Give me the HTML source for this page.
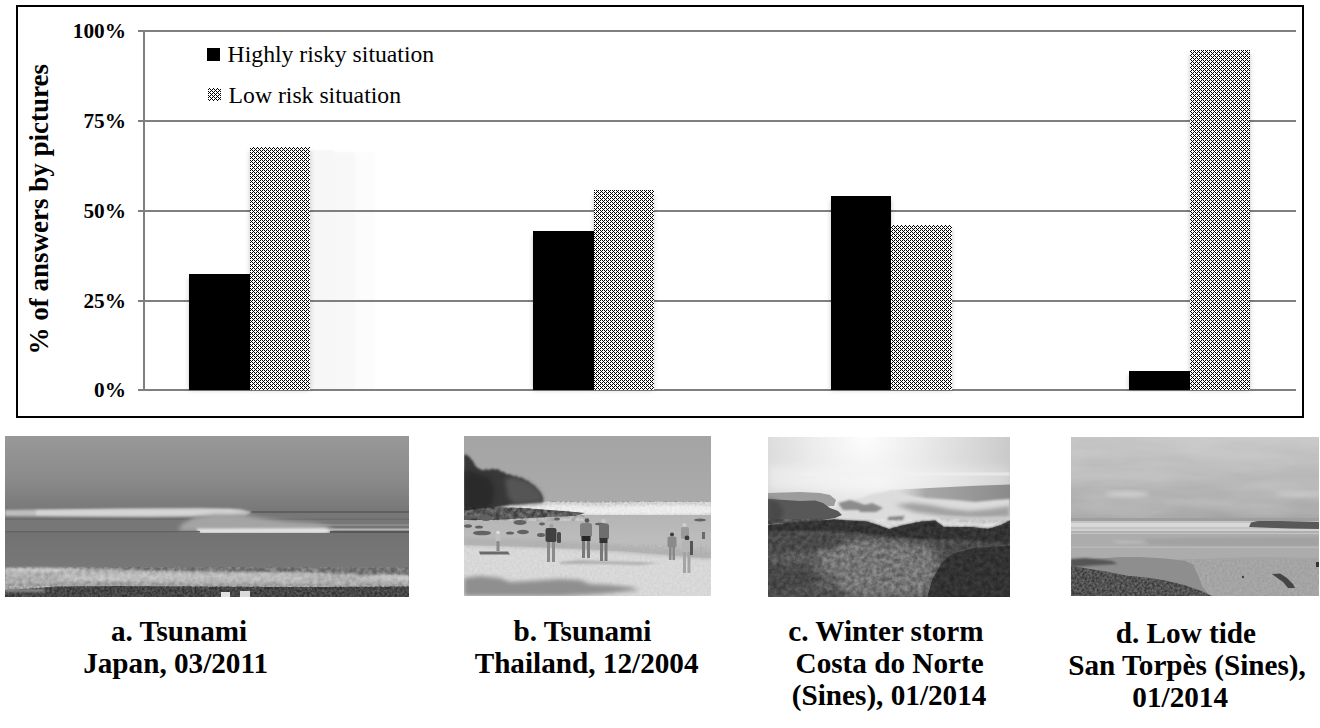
<!DOCTYPE html>
<html><head><meta charset="utf-8"><style>
html,body{margin:0;padding:0;background:#fff;width:1320px;height:728px;overflow:hidden}
svg{display:block}
text{font-family:"Liberation Serif",serif}
</style></head><body>
<svg width="1320" height="728" viewBox="0 0 1320 728">
<defs>
<pattern id="pt00" x="0" y="0" width="4" height="4" patternUnits="userSpaceOnUse">
<rect width="4" height="4" fill="#fff"/>
<g fill="#000" shape-rendering="crispEdges">
<rect x="0" y="0" width="1" height="1"/><rect x="2" y="0" width="1" height="1"/>
<rect x="3" y="1" width="1" height="1"/>
<rect x="0" y="2" width="1" height="1"/><rect x="2" y="2" width="1" height="1"/>
<rect x="1" y="3" width="1" height="1"/>
</g></pattern>
<pattern id="pt20" x="2" y="0" width="4" height="4" patternUnits="userSpaceOnUse">
<rect width="4" height="4" fill="#fff"/>
<g fill="#000" shape-rendering="crispEdges">
<rect x="0" y="0" width="1" height="1"/><rect x="2" y="0" width="1" height="1"/>
<rect x="3" y="1" width="1" height="1"/>
<rect x="0" y="2" width="1" height="1"/><rect x="2" y="2" width="1" height="1"/>
<rect x="1" y="3" width="1" height="1"/>
</g></pattern>
<pattern id="pt10" x="1" y="0" width="4" height="4" patternUnits="userSpaceOnUse">
<rect width="4" height="4" fill="#fff"/>
<g fill="#000" shape-rendering="crispEdges">
<rect x="0" y="0" width="1" height="1"/><rect x="2" y="0" width="1" height="1"/>
<rect x="3" y="1" width="1" height="1"/>
<rect x="0" y="2" width="1" height="1"/><rect x="2" y="2" width="1" height="1"/>
<rect x="1" y="3" width="1" height="1"/>
</g></pattern>
<pattern id="pt01" x="0" y="1" width="4" height="4" patternUnits="userSpaceOnUse">
<rect width="4" height="4" fill="#fff"/>
<g fill="#000" shape-rendering="crispEdges">
<rect x="0" y="0" width="1" height="1"/><rect x="2" y="0" width="1" height="1"/>
<rect x="3" y="1" width="1" height="1"/>
<rect x="0" y="2" width="1" height="1"/><rect x="2" y="2" width="1" height="1"/>
<rect x="1" y="3" width="1" height="1"/>
</g></pattern>
<filter id="sh" x="-30%" y="-10%" width="160%" height="120%"><feGaussianBlur stdDeviation="2.5"/></filter>
<filter id="gb" x="-5%" y="-5%" width="110%" height="110%"><feGaussianBlur stdDeviation="1.2"/></filter>
<linearGradient id="ghost" x1="0" x2="1" y1="0" y2="0"><stop offset="0" stop-color="#f5f5f5"/><stop offset="1" stop-color="#fdfdfd"/></linearGradient>
</defs>
<rect x="0" y="0" width="1320" height="728" fill="#fff"/>

<rect x="17" y="6" width="1286" height="411" fill="#fff" stroke="#000" stroke-width="2"/>
<g filter="url(#gb)"><rect x="310" y="150" width="24" height="240" fill="#f7f7f7"/><rect x="334" y="152" width="21" height="238" fill="#f8f8f8"/><rect x="355" y="152" width="20" height="238" fill="#fcfcfc"/></g>
<line x1="138" y1="31" x2="1296" y2="31" stroke="#7f7f7f" stroke-width="2"/>
<line x1="138" y1="121" x2="1296" y2="121" stroke="#7f7f7f" stroke-width="2"/>
<line x1="138" y1="211" x2="1296" y2="211" stroke="#7f7f7f" stroke-width="2"/>
<line x1="138" y1="301" x2="1296" y2="301" stroke="#7f7f7f" stroke-width="2"/>
<line x1="138" y1="390" x2="1296" y2="390" stroke="#7f7f7f" stroke-width="2"/>
<line x1="144" y1="30" x2="144" y2="391" stroke="#7f7f7f" stroke-width="2"/>
<rect x="189" y="278" width="61" height="112" fill="#000" opacity="0.22" filter="url(#sh)"/>
<rect x="250" y="151" width="60" height="239" fill="#000" opacity="0.22" filter="url(#sh)"/>
<rect x="533" y="235" width="61" height="155" fill="#000" opacity="0.22" filter="url(#sh)"/>
<rect x="594" y="194" width="60" height="196" fill="#000" opacity="0.22" filter="url(#sh)"/>
<rect x="831" y="200" width="60" height="190" fill="#000" opacity="0.22" filter="url(#sh)"/>
<rect x="891" y="229" width="61" height="161" fill="#000" opacity="0.22" filter="url(#sh)"/>
<rect x="1129" y="375" width="61" height="15" fill="#000" opacity="0.22" filter="url(#sh)"/>
<rect x="1190" y="54" width="60" height="336" fill="#000" opacity="0.22" filter="url(#sh)"/>
<rect x="189" y="274" width="61" height="116" fill="#000"/>
<rect x="250" y="147" width="60" height="243" fill="url(#pt00)"/>
<rect x="533" y="231" width="61" height="159" fill="#000"/>
<rect x="594" y="190" width="60" height="200" fill="url(#pt00)"/>
<rect x="831" y="196" width="60" height="194" fill="#000"/>
<rect x="891" y="225" width="61" height="165" fill="url(#pt20)"/>
<rect x="1129" y="371" width="61" height="19" fill="#000"/>
<rect x="1190" y="50" width="60" height="340" fill="url(#pt10)"/>
<text x="126" y="38.0" text-anchor="end" font-weight="bold" font-size="21.3">100%</text>
<text x="126" y="128.0" text-anchor="end" font-weight="bold" font-size="21.3">75%</text>
<text x="126" y="218.0" text-anchor="end" font-weight="bold" font-size="21.3">50%</text>
<text x="126" y="308.0" text-anchor="end" font-weight="bold" font-size="21.3">25%</text>
<text x="126" y="397.0" text-anchor="end" font-weight="bold" font-size="21.3">0%</text>
<text transform="translate(48.3,209.2) rotate(-90)" text-anchor="middle" font-weight="bold" font-size="27">% of answers by pictures</text>
<rect x="207" y="48" width="13" height="13" fill="#000"/>
<rect x="208" y="88" width="13" height="13" fill="url(#pt01)"/>
<text x="227.6" y="61.6" font-size="23.7">Highly risky situation</text>
<text x="228.6" y="103" font-size="23.7">Low risk situation</text>
<defs>
<clipPath id="ca"><rect x="5" y="436" width="404" height="161"/></clipPath>
<clipPath id="cb"><rect x="464" y="436" width="247" height="160"/></clipPath>
<clipPath id="cc"><rect x="768" y="437" width="242" height="160"/></clipPath>
<clipPath id="cd"><rect x="1071" y="437" width="248" height="159"/></clipPath>
<filter id="b05" x="-10%" y="-50%" width="120%" height="200%"><feGaussianBlur stdDeviation="0.6"/></filter>
<filter id="b1" x="-10%" y="-50%" width="120%" height="200%"><feGaussianBlur stdDeviation="1"/></filter>
<filter id="b2" x="-10%" y="-50%" width="120%" height="200%"><feGaussianBlur stdDeviation="2"/></filter>
<filter id="b4" x="-20%" y="-50%" width="140%" height="200%"><feGaussianBlur stdDeviation="4"/></filter>
<filter id="nz" x="0" y="0" width="100%" height="100%" color-interpolation-filters="sRGB">
<feTurbulence type="fractalNoise" baseFrequency="0.35" numOctaves="2" seed="3"/>
<feColorMatrix type="matrix" values="0 0 0 0 0  0 0 0 0 0  0 0 0 0 0  0 0 0 -1.2 0.75"/>
</filter>
<filter id="nzl" x="0" y="0" width="100%" height="100%" color-interpolation-filters="sRGB">
<feTurbulence type="fractalNoise" baseFrequency="0.3" numOctaves="2" seed="7"/>
<feColorMatrix type="matrix" values="0 0 0 0 1  0 0 0 0 1  0 0 0 0 1  0 0 0 -1.2 0.75"/>
</filter>
<linearGradient id="askyg" x1="0" y1="436" x2="0" y2="512" gradientUnits="userSpaceOnUse">
<stop offset="0" stop-color="#989898"/><stop offset="0.55" stop-color="#8b8b8b"/><stop offset="1" stop-color="#777"/></linearGradient>
<linearGradient id="aseag" x1="0" y1="533" x2="0" y2="570" gradientUnits="userSpaceOnUse">
<stop offset="0" stop-color="#727272"/><stop offset="1" stop-color="#787878"/></linearGradient>
<linearGradient id="bskyg" x1="0" y1="436" x2="0" y2="505" gradientUnits="userSpaceOnUse">
<stop offset="0" stop-color="#a4a4a4"/><stop offset="1" stop-color="#ababab"/></linearGradient>
<linearGradient id="bseag" x1="0" y1="514" x2="0" y2="560" gradientUnits="userSpaceOnUse">
<stop offset="0" stop-color="#b4b4b4"/><stop offset="0.6" stop-color="#bdbdbd"/><stop offset="1" stop-color="#b0b0b0"/></linearGradient>
<radialGradient id="csun" cx="865" cy="437" r="150" gradientUnits="userSpaceOnUse">
<stop offset="0" stop-color="#fdfdfd"/><stop offset="0.35" stop-color="#ececec"/><stop offset="0.8" stop-color="#d4d4d4"/><stop offset="1" stop-color="#c8c8c8"/></radialGradient>
<linearGradient id="dskyg" x1="0" y1="437" x2="0" y2="521" gradientUnits="userSpaceOnUse">
<stop offset="0" stop-color="#c9c9c9"/><stop offset="0.45" stop-color="#bdbdbd"/><stop offset="0.7" stop-color="#b6b6b6"/><stop offset="1" stop-color="#a9a9a9"/></linearGradient>
<linearGradient id="chaze" x1="768" y1="0" x2="1010" y2="0" gradientUnits="userSpaceOnUse">
<stop offset="0" stop-color="#eeeeee" stop-opacity="0.7"/><stop offset="0.45" stop-color="#f6f6f6" stop-opacity="0.9"/><stop offset="1" stop-color="#e0e0e0" stop-opacity="0.5"/></linearGradient>
<linearGradient id="csea" x1="880" y1="0" x2="1010" y2="0" gradientUnits="userSpaceOnUse">
<stop offset="0" stop-color="#d8d8d8" stop-opacity="0"/><stop offset="0.35" stop-color="#a8a8a8"/><stop offset="1" stop-color="#8a8a8a"/></linearGradient>
<filter id="nzo" x="0" y="0" width="100%" height="100%" color-interpolation-filters="sRGB">
<feTurbulence type="fractalNoise" baseFrequency="0.22" numOctaves="3" seed="5"/>
<feColorMatrix type="matrix" values="1.8 0 0 0 -0.4  1.8 0 0 0 -0.4  1.8 0 0 0 -0.4  0 0 0 0 1"/>
</filter>
<filter id="nzf" x="0" y="0" width="100%" height="100%" color-interpolation-filters="sRGB">
<feTurbulence type="fractalNoise" baseFrequency="0.4" numOctaves="2" seed="9"/>
<feColorMatrix type="matrix" values="1.8 0 0 0 -0.4  1.8 0 0 0 -0.4  1.8 0 0 0 -0.4  0 0 0 0 1"/>
</filter>
<clipPath id="dveg"><path d="M1071 566 L1108.6 572 L1127 575.7 L1146 577.6 L1165 580.4 L1184 585 L1202.5 591.6 L1214 597 L1071 597 Z"/></clipPath>
<filter id="cloud" x="0" y="0" width="100%" height="100%" color-interpolation-filters="sRGB">
<feTurbulence type="fractalNoise" baseFrequency="0.012 0.06" numOctaves="3" seed="11"/>
<feColorMatrix type="matrix" values="2 0 0 0 -0.5  2 0 0 0 -0.5  2 0 0 0 -0.5  0 0 0 0 1"/>
</filter>
</defs>

<!-- Photo a: Tsunami Japan -->
<g clip-path="url(#ca)">
<rect x="5" y="436" width="404" height="161" fill="url(#askyg)"/>
<rect x="5" y="512" width="404" height="22" fill="#777"/>
<rect x="250" y="511" width="159" height="2" fill="#5f5f5f" filter="url(#b05)"/>
<rect x="5" y="518.5" width="404" height="1.5" fill="#6c6c6c" filter="url(#b05)"/>
<rect x="250" y="524" width="159" height="2" fill="#8a8a8a" filter="url(#b05)"/>
<!-- upper wave band -->
<path d="M5 510 L40 509.5 L120 508.5 L200 508 L240 509 L252 512 L245 516 L150 517 L60 516.5 L5 516 Z" fill="#bdbdbd" filter="url(#b1)"/>
<path d="M36 510.5 L140 509.5 L230 509.5 L246 512.5 L230 515 L120 515.5 L36 515 Z" fill="#d6d6d6" filter="url(#b1)"/>
<!-- spray of second wave -->
<path d="M178 531 L182 524 L195 517 L215 514 L240 514.5 L262 518 L285 521 L300 522 L315 523 L328 526 L334 531 Z" fill="#a4a4a4" filter="url(#b2)"/>
<path d="M196 528.5 L325 528 L333 530.5 L326 533.5 L200 533.5 Z" fill="#e2e2e2" filter="url(#b1)"/>
<rect x="330" y="528.5" width="79" height="2" fill="#b4b4b4" filter="url(#b05)"/>
<rect x="5" y="531" width="195" height="1.5" fill="#626262" filter="url(#b05)"/>
<rect x="330" y="531" width="79" height="2" fill="#595959" filter="url(#b05)"/>
<!-- ocean -->
<rect x="5" y="533" width="404" height="37" fill="url(#aseag)"/>
<!-- foam -->
<path d="M5 568 L40 567.5 L80 568 L110 569 L160 571 L240 572 L300 572 L330 573 L370 575 L409 575 L409 590 L5 590 Z" fill="#b0b0b0" filter="url(#b1)"/>
<path d="M5 569 L30 568.5 L70 569.5 L80 571 L50 572 L5 572 Z" fill="#c4c4c4" filter="url(#b1)"/>
<path d="M60 575 L150 573.5 L250 575 L300 576 L330 577 L300 580 L200 580 L100 580 L60 579 Z" fill="#c2c2c2" filter="url(#b2)"/>
<path d="M370 576 L400 575 L409 576 L409 580 L370 580 Z" fill="#c4c4c4" filter="url(#b1)"/>
<path d="M5 583 L100 582 L200 583.5 L300 584 L409 584 L409 587 L5 587 Z" fill="#9e9e9e" filter="url(#b1)"/>
<!-- land -->
<path d="M5 590 L30 588.5 L45 587.5 L60 586.5 L120 586 L200 586.5 L300 587 L409 586.5 L409 597 L5 597 Z" fill="#444" filter="url(#b05)"/>
<rect x="5" y="586" width="404" height="11" filter="url(#nzf)" style="mix-blend-mode:overlay" opacity="0.35"/>
<rect x="5" y="567" width="404" height="20" filter="url(#nzo)" style="mix-blend-mode:overlay" opacity="0.2"/>
<rect x="5" y="589" width="40" height="3" fill="#8a8a8a" filter="url(#b1)"/>
<rect x="221" y="592" width="9" height="5" fill="#e2e2e2"/>
<rect x="240" y="591" width="10" height="6" fill="#dadada"/>
</g>

<!-- Photo b: Tsunami Thailand -->
<g clip-path="url(#cb)">
<rect x="464" y="436" width="247" height="70" fill="url(#bskyg)"/>
<!-- surf -->
<path d="M490 503 L540 502 L600 502.5 L650 502 L711 502 L711 516 L590 516 L490 513 Z" fill="#d4d4d4" filter="url(#b05)"/>
<path d="M520 507 L560 505 L600 506.5 L640 505.5 L680 505 L711 506 L711 514 L640 514.5 L580 514 L520 511 Z" fill="#ececec" filter="url(#b1)"/>
<rect x="490" y="501" width="221" height="15" filter="url(#nzf)" style="mix-blend-mode:overlay" opacity="0.35"/>
<!-- sea/wet sand -->
<rect x="464" y="515" width="247" height="46" fill="url(#bseag)"/>
<!-- beach -->
<path d="M464 545 L500 546 L540 547.5 L580 549 L620 551 L660 554 L690 557 L711 558 L711 596 L464 596 Z" fill="#d8d8d8" filter="url(#b05)"/>
<rect x="464" y="545" width="247" height="51" filter="url(#nzf)" style="mix-blend-mode:overlay" opacity="0.15"/>
<!-- hill -->
<path d="M464 455 L466 454.5 L469 456.5 L471 459 L473 461 L475 465 L477 467.5 L480 469 L483 470.5 L486 469 L489 470 L492 468.5 L495 469.5 L498 469 L501 471.5 L504 472 L507 474.5 L510 474 L513 476.5 L516 476 L519 478 L522 477.5 L525 480.5 L528 481 L531 484 L534 485.5 L536 488 L539 491 L541 494 L542.5 497 L543 502 L530 503 L510 505 L496 508 L485 511 L464 512 Z" fill="#383838" filter="url(#b1)"/>
<path d="M505 479 L514 477 L526 481 L534 486 L540 492 L542 497 L543 502 L530 503 L515 504 L508 498 Z" fill="#555" filter="url(#b2)"/>
<path d="M464 470 L475 472 L490 478 L495 490 L492 505 L480 510 L464 512 Z" fill="#2c2c2c" filter="url(#b2)"/>
<!-- rocks band -->
<path d="M464 511 L480 508.5 L500 507 L525 508 L550 510 L570 511.5 L585 513 L575 516 L550 517 L520 518.5 L495 520 L464 520 Z" fill="#585858" filter="url(#b05)"/>
<rect x="464" y="507" width="122" height="14" filter="url(#nzo)" style="mix-blend-mode:overlay" opacity="0.35"/>
<g fill="#626262" filter="url(#b05)">
<ellipse cx="486" cy="518" rx="6" ry="3"/>
<ellipse cx="520" cy="522.5" rx="6.5" ry="2.5"/>
<ellipse cx="523" cy="532" rx="6" ry="2.2"/>
<ellipse cx="510" cy="533" rx="4" ry="1.6"/>
<ellipse cx="468" cy="526" rx="4" ry="1.8"/>
<ellipse cx="479" cy="527" rx="4" ry="1.6"/>
<ellipse cx="482" cy="533" rx="9" ry="2.3"/>
<ellipse cx="541" cy="535" rx="4" ry="2"/>
<ellipse cx="542" cy="524" rx="3" ry="1.4"/>
<ellipse cx="557" cy="519" rx="3" ry="1.4"/>
<ellipse cx="600" cy="524" rx="5" ry="1.3"/>
<ellipse cx="700" cy="520" rx="6" ry="1.4"/>
</g>
<!-- darker wet zone near shore -->
<path d="M464 538 L540 540 L600 544 L660 549 L711 553 L711 559 L660 555 L600 550 L540 547 L464 545 Z" fill="#b0b0b0" filter="url(#b2)"/>
<!-- shadows on beach -->
<path d="M464 578 L480 576 L500 578 L510 582 L530 581 L560 579 L580 580 L590 584 L610 585 L630 587 L640 590 L600 594 L560 596 L464 596 Z" fill="#8f8f8f" filter="url(#b2)"/>
<path d="M479 551.5 L508 551.5 L510 554.5 L480 554.5 Z" fill="#6a6a6a" filter="url(#b05)"/>
<path d="M560 562 L580 560 L600 561 L640 562 L660 563 L640 565 L600 564 L560 564 Z" fill="#b0b0b0" filter="url(#b1)"/>
<!-- people -->
<g filter="url(#b05)">
<!-- child left -->
<rect x="495.5" y="534" width="5" height="8" rx="1.5" fill="#c0c0c0"/><circle cx="498" cy="532.5" r="1.8" fill="#e0e0e0"/>
<rect x="496.5" y="541" width="3" height="10" fill="#8a8a8a"/>
<!-- person dark shirt -->
<circle cx="551.5" cy="526" r="2.2" fill="#a0a0a0"/>
<rect x="545.5" y="528" width="11" height="14" rx="2" fill="#404040"/>
<rect x="547" y="542" width="3" height="20" fill="#8a8a8a"/><rect x="552" y="542" width="3" height="20" fill="#8a8a8a"/>
<rect x="557" y="532" width="4" height="11" rx="1.5" fill="#4a4a4a"/>
<!-- man 1 -->
<circle cx="587" cy="520.5" r="2.3" fill="#555"/>
<rect x="580" y="523" width="12" height="14" rx="2.5" fill="#808080"/>
<rect x="581.5" y="536" width="9" height="5" fill="#252525"/>
<rect x="582" y="541" width="3" height="17" fill="#7a7a7a"/><rect x="587" y="541" width="3" height="17" fill="#7a7a7a"/>
<!-- man 2 -->
<circle cx="603.5" cy="521" r="2.3" fill="#c8c8c8"/>
<rect x="599" y="523.5" width="10" height="16" rx="2.5" fill="#6e6e6e"/>
<rect x="599.5" y="538" width="8" height="5" fill="#303030"/>
<rect x="600" y="543" width="3" height="18" fill="#787878"/><rect x="604.5" y="543" width="3" height="18" fill="#787878"/>
<!-- child right -->
<circle cx="672" cy="534.5" r="2" fill="#3a3a3a"/>
<rect x="667.5" y="536.5" width="9" height="11" rx="2" fill="#8a8a8a"/>
<rect x="669" y="547" width="2.5" height="13" fill="#888"/><rect x="672.5" y="547" width="2.5" height="13" fill="#888"/>
<!-- woman + person behind -->
<circle cx="684.5" cy="525" r="2" fill="#d0d0d0"/>
<rect x="681" y="527" width="8" height="12" rx="2" fill="#9a9a9a"/>
<circle cx="687" cy="538" r="2.4" fill="#3c3c3c"/>
<rect x="682" y="540" width="10" height="13" rx="2.5" fill="#b4b4b4"/>
<rect x="683" y="552" width="3" height="21" fill="#a4a4a4"/><rect x="687.5" y="552" width="3" height="21" fill="#a4a4a4"/>
<rect x="690" y="541" width="3" height="14" fill="#555"/>
<!-- far person -->
<rect x="702" y="532" width="3" height="7" fill="#6a6a6a"/>
</g>
</g>

<!-- Photo c: Winter storm -->
<g clip-path="url(#cc)">
<rect x="768" y="437" width="242" height="160" fill="url(#csun)"/>
<rect x="768" y="466" width="242" height="24" fill="url(#chaze)" filter="url(#b4)"/>
<rect x="800" y="473" width="210" height="2" fill="#f2f2f2" filter="url(#b1)"/>
<!-- sea right -->
<path d="M870 492 L900 489.5 L930 488 L970 486 L1010 484.5 L1010 508 L870 508 Z" fill="url(#csea)" filter="url(#b05)"/>
<!-- far cliff -->
<path d="M768 493 L800 492 L820 493 L830 495 L836 500 L834 506 L768 507 Z" fill="#9c9c9c" filter="url(#b05)"/>
<!-- surf -->
<path d="M828 512 L838 506 L850 500 L862 498 L872 494 L885 492 L893 490 L900 493 L912 496 L925 498 L940 499 L955 500 L975 502 L995 500 L1010 499 L1010 528 L828 528 Z" fill="#dcdcdc" filter="url(#b1)"/>
<path d="M895 505 L912 503 L930 505 L950 509 L970 511 L990 509 L1010 506 L1010 517 L985 518 L950 517 L915 512 Z" fill="#a0a0a0" filter="url(#b2)"/>
<path d="M838 503 L850 500 L860 503 L868 507 L860 510 L843 510 Z" fill="#8c8c8c" filter="url(#b1)"/>
<path d="M858 507 L872 503 L883 508 L876 512 L860 512 Z" fill="#8a8a8a" filter="url(#b1)"/>
<path d="M888 517 L905 516 L902 520 L888 520 Z" fill="#808080" filter="url(#b1)"/>
<path d="M940 516 L970 518 L1000 517 L1010 518 L1010 523 L970 523 L940 520 Z" fill="#c8c8c8" filter="url(#b1)"/>
<!-- near dark cliff left -->
<path d="M768 499 L785 500 L800 501 L815 500.5 L823 503 L830 508 L838 511 L842 515 L835 518 L815 521 L790 523 L768 524 Z" fill="#585858" filter="url(#b05)"/>
<path d="M768 499 L778 502 L784 512 L778 523 L768 524 Z" fill="#484848" filter="url(#b2)"/>
<!-- foreground ground -->
<path d="M768 525 L801 521.6 L834 519.4 L867 521.6 L889 529 L904 525 L922 521.6 L935 520.5 L944 527 L955 527 L972 527 L988 529 L1001 525 L1010 520.5 L1010 597 L768 597 Z" fill="#4c4c4c" filter="url(#b05)"/>
<!-- lighter dirt path in middle -->
<path d="M815 545 L850 540 L880 539 L910 542 L935 548 L940 565 L934 582 L928 597 L850 597 L835 585 L815 565 Z" fill="#747474" filter="url(#b4)"/>
<path d="M790 575 L820 570 L840 578 L830 590 L800 592 Z" fill="#5e5e5e" filter="url(#b2)"/>
<path d="M770 548 L800 546 L820 552 L815 565 L790 566 L770 562 Z" fill="#5c5c5c" filter="url(#b4)"/>
<!-- dark band -->
<path d="M768 525 L801 521.6 L834 519.4 L867 521.6 L889 529 L904 525 L922 521.6 L935 520.5 L944 527 L955 527 L972 527 L988 529 L1001 525 L1010 520.5 L1010 543 L980 541 L950 539 L920 539 L890 537 L860 533 L830 531 L800 531 L768 532 Z" fill="#333" filter="url(#b1)"/>
<path d="M768 532 L800 531 L830 533 L845 540 L835 548 L810 550 L790 553 L768 554 Z" fill="#4a4a4a" filter="url(#b2)"/>
<path d="M768 568 L790 565 L812 571 L822 580 L812 588 L790 590 L768 588 Z" fill="#464646" filter="url(#b2)"/>
<path d="M780 591 L810 590 L830 594 L835 597 L780 597 Z" fill="#4e4e4e" filter="url(#b2)"/>
<!-- bush right -->
<path d="M927.5 597 L932 580 L942 562.6 L950 555 L960.5 551.6 L975 548 L995 546.5 L1010 546 L1010 597 Z" fill="#303030" filter="url(#b05)"/>
<rect x="768" y="519" width="242" height="78" filter="url(#nzo)" style="mix-blend-mode:overlay" opacity="0.22"/>
</g>

<!-- Photo d: Low tide -->
<g clip-path="url(#cd)">
<rect x="1071" y="437" width="248" height="84" fill="url(#dskyg)"/>
<rect x="1071" y="437" width="248" height="82" filter="url(#cloud)" style="mix-blend-mode:overlay" opacity="0.08"/>
<ellipse cx="1127" cy="494" rx="22" ry="2.5" fill="#d2d2d2" filter="url(#b2)"/>
<ellipse cx="1300" cy="494" rx="25" ry="2.5" fill="#cacaca" filter="url(#b2)"/>
<ellipse cx="1200" cy="502" rx="40" ry="2" fill="#bababa" filter="url(#b2)"/>
<rect x="1071" y="518" width="248" height="4" fill="#9e9e9e" filter="url(#b05)"/>
<rect x="1071" y="521" width="248" height="14" fill="#c4c4c4"/>
<rect x="1071" y="523" width="248" height="4" fill="#d8d8d8" filter="url(#b05)"/>
<rect x="1071" y="529" width="248" height="2" fill="#d0d0d0" filter="url(#b05)"/>
<rect x="1071" y="531" width="248" height="2" fill="#b0b0b0" filter="url(#b05)"/>
<rect x="1071" y="534" width="248" height="26" fill="#acacac"/>
<path d="M1145 539 L1200 537.5 L1319 537 L1319 546 L1200 546 L1150 545 Z" fill="#a2a2a2" filter="url(#b1)"/>
<path d="M1110 540 L1140 541 L1145 543 L1120 544 Z" fill="#b8b8b8" filter="url(#b1)"/>
<rect x="1071" y="546.5" width="248" height="1.5" fill="#b8b8b8" filter="url(#b05)"/>
<path d="M1249 527 L1251 522.5 L1258 521 L1280 521 L1300 521.5 L1319 522 L1319 529 L1290 528.5 Z" fill="#585858" filter="url(#b05)"/>
<!-- foreground sand -->
<path d="M1071 559 L1140 560 L1200 559 L1260 557 L1319 558 L1319 596 L1071 596 Z" fill="#a4a4a4" filter="url(#b05)"/>
<rect x="1071" y="559" width="248" height="37" filter="url(#nzf)" style="mix-blend-mode:overlay" opacity="0.08"/>
<!-- rock -->
<path d="M1071 560.4 L1099 558.5 L1120 557 L1140 557 L1165 558.5 L1185 561 L1193 564.4 L1198 575 L1202.5 587 L1210 596 L1071 596 Z" fill="#8e8e8e" filter="url(#b05)"/>
<!-- vegetation -->
<path d="M1071 566 L1108.6 572 L1127 575.7 L1146 577.6 L1165 580.4 L1184 585 L1202.5 591.6 L1214 597 L1071 597 Z" fill="#444" filter="url(#b05)"/>
<g clip-path="url(#dveg)"><rect x="1071" y="560" width="140" height="36" filter="url(#nzf)" style="mix-blend-mode:overlay" opacity="0.22"/></g>
<path d="M1071 559 L1085 558 L1100 559.5 L1112 561 L1118 564 L1100 565 L1085 566 L1071 567 Z" fill="#555" filter="url(#b1)"/>
<path d="M1272 574 L1280 573.5 L1287 578 L1293 584 L1295 588 L1288 588 L1283 582 L1276 577 Z" fill="#444" filter="url(#b05)"/>
<rect x="1316" y="562" width="3" height="5" fill="#333"/>
<circle cx="1243" cy="577" r="1.2" fill="#444"/>
</g>

<text x="179.1" y="640.7" text-anchor="middle" font-weight="bold" font-size="29.2">a. Tsunami</text>
<text x="175.6" y="672.5" text-anchor="middle" font-weight="bold" font-size="29.2">Japan, 03/2011</text>
<text x="582.5" y="640.5" text-anchor="middle" font-weight="bold" font-size="29.2">b. Tsunami</text>
<text x="586.6" y="672.6" text-anchor="middle" font-weight="bold" font-size="29.2">Thailand, 12/2004</text>
<text x="885.9" y="640.5" text-anchor="middle" font-weight="bold" font-size="29.2">c. Winter storm</text>
<text x="889.6" y="672.7" text-anchor="middle" font-weight="bold" font-size="29.2">Costa do Norte</text>
<text x="889.1" y="704.5" text-anchor="middle" font-weight="bold" font-size="29.2">(Sines), 01/2014</text>
<text x="1185.9" y="642.5" text-anchor="middle" font-weight="bold" font-size="29.2">d. Low tide</text>
<text x="1187" y="674.6" text-anchor="middle" font-weight="bold" font-size="29.2">San Torpès (Sines),</text>
<text x="1180.2" y="706.5" text-anchor="middle" font-weight="bold" font-size="29.2">01/2014</text>
</svg></body></html>
